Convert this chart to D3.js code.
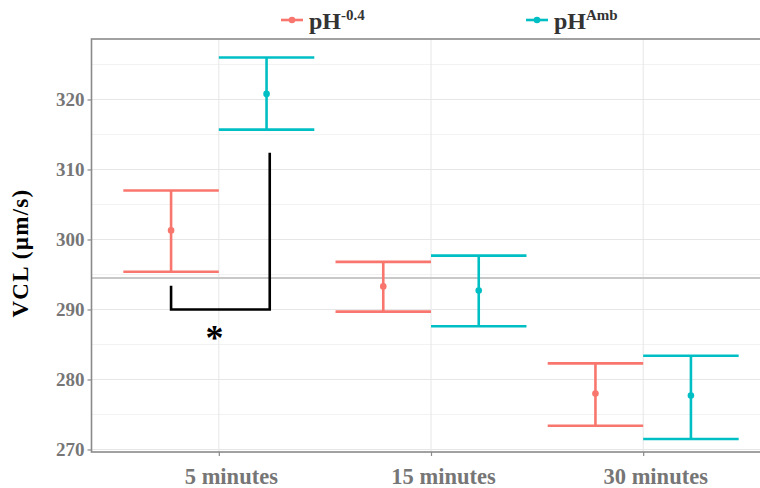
<!DOCTYPE html>
<html><head><meta charset="utf-8">
<script src="https://cdn.jsdelivr.net/npm/d3@7"></script>
<style>body{margin:0;background:#fff}</style>
</head><body><svg id="c" width="760" height="488"></svg>
<script>
// ---- data ----
const categories = ["5 minutes", "15 minutes", "30 minutes"];
const seriesLabels = ["-0.4", "Amb"];
const seriesColors = ["#F8766D", "#00BFC4"];
const meanNeg  = [301.3, 293.3, 278.0];
const lowerNeg = [295.4, 289.7, 273.4];
const upperNeg = [307.0, 296.8, 282.3];
const meanAmb  = [320.8, 292.7, 277.7];
const lowerAmb = [315.7, 287.6, 271.5];
const upperAmb = [326.0, 297.7, 283.4];
const yTicks = [270, 280, 290, 300, 310, 320];
const yMinor = [275, 285, 295, 305, 315, 325];
const bracketX = [0.775, 1.24];
const bracketY = [293.4, 290.0, 312.4];
const starPos = [0.98, 287];
const refLine = 294.5;

const series = [
  {label: seriesLabels[0], color: seriesColors[0], mean: meanNeg, lo: lowerNeg, hi: upperNeg, off: -0.225},
  {label: seriesLabels[1], color: seriesColors[1], mean: meanAmb, lo: lowerAmb, hi: upperAmb, off: 0.225}
];

const svg = d3.select("#c");
const L = 91.5, R = 770.5, T = 39, B = 452;
const x = d3.scaleLinear().domain([0.4, 3.6]).range([L, R]);
const y = d3.scaleLinear().domain([269.64, 328.64]).range([B, T]);
const FONT = "'Liberation Serif', serif";
const GREY = "#767676";

const g = svg.append("g");
// minor grid
g.selectAll(".ymin").data(yMinor).join("line")
  .attr("x1", L).attr("x2", R).attr("y1", d => y(d)).attr("y2", d => y(d))
  .attr("stroke", "#f2f2f2").attr("stroke-width", 1);
// major grid
g.selectAll(".ymaj").data(yTicks).join("line")
  .attr("x1", L).attr("x2", R).attr("y1", d => y(d)).attr("y2", d => y(d))
  .attr("stroke", "#e6e6e6").attr("stroke-width", 1);
g.selectAll(".xmaj").data([1, 2, 3]).join("line")
  .attr("x1", d => x(d)).attr("x2", d => x(d)).attr("y1", T).attr("y2", B)
  .attr("stroke", "#e6e6e6").attr("stroke-width", 1);
// reference line
g.append("line").attr("x1", L).attr("x2", R).attr("y1", y(refLine)).attr("y2", y(refLine))
  .attr("stroke", "#c8c8c8").attr("stroke-width", 2);

// error bars
series.forEach(s => {
  const sg = g.append("g");
  categories.forEach((c, i) => {
    const cx = x(i + 1 + s.off);
    sg.append("line").attr("x1", cx).attr("x2", cx).attr("y1", y(s.lo[i])).attr("y2", y(s.hi[i]))
      .attr("stroke", s.color).attr("stroke-width", 2.6);
    [s.lo[i], s.hi[i]].forEach(v => {
      sg.append("line").attr("x1", x(i + 1 + s.off - 0.225)).attr("x2", x(i + 1 + s.off + 0.225))
        .attr("y1", y(v)).attr("y2", y(v)).attr("stroke", s.color).attr("stroke-width", 2.6);
    });
    sg.append("circle").attr("cx", cx).attr("cy", y(s.mean[i])).attr("r", 3.3).attr("fill", s.color);
  });
});

// bracket
g.append("path")
  .attr("d", d3.line()([[x(bracketX[0]), y(bracketY[0])], [x(bracketX[0]), y(bracketY[1])],
                        [x(bracketX[1]), y(bracketY[1])], [x(bracketX[1]), y(bracketY[2])]]))
  .attr("fill", "none").attr("stroke", "#000").attr("stroke-width", 2.6);
g.append("text").attr("x", x(starPos[0])).attr("y", y(starPos[1]) + 20)
  .attr("text-anchor", "middle").attr("font-family", FONT).attr("font-weight", "bold")
  .attr("font-size", 36).attr("fill", "#000").text("*");

// border
g.append("rect").attr("x", L).attr("y", T).attr("width", R - L).attr("height", B - T)
  .attr("fill", "none").attr("stroke", "#8a8a8a").attr("stroke-width", 1.6);

// axes
const yAxis = d3.axisLeft(y).tickValues(yTicks).tickSize(4).tickPadding(3);
const ya = svg.append("g").attr("transform", `translate(${L},0)`).call(yAxis);
ya.select(".domain").remove();
ya.selectAll("line").attr("stroke", "#8a8a8a").attr("stroke-width", 1.2);
ya.selectAll("text").attr("font-family", FONT).attr("font-weight", "bold")
  .attr("font-size", 19).attr("fill", GREY);

const xAxis = d3.axisBottom(x).tickValues([1, 2, 3]).tickFormat((d) => categories[d - 1]).tickSize(4).tickPadding(12);
const xa = svg.append("g").attr("transform", `translate(0,${B})`).call(xAxis);
xa.select(".domain").remove();
xa.selectAll("line").attr("stroke", "#8a8a8a").attr("stroke-width", 1.2);
xa.selectAll("text").attr("font-family", FONT).attr("font-weight", "bold")
  .attr("font-size", 22.5).attr("fill", GREY).attr("dx", 12);

// y title
svg.append("text").attr("transform", "translate(28,253) rotate(-90)")
  .attr("text-anchor", "middle").attr("font-family", FONT).attr("font-weight", "bold")
  .attr("font-size", 23).attr("letter-spacing", 1.3).attr("fill", "#000").text("VCL (µm/s)");

// legend
const legX = [292, 537];
series.forEach((s, i) => {
  const lg = svg.append("g").attr("transform", `translate(${legX[i]},20)`);
  lg.append("line").attr("x1", -11).attr("x2", 11).attr("stroke", s.color).attr("stroke-width", 2.6);
  lg.append("circle").attr("r", 3.3).attr("fill", s.color);
  const t = lg.append("text").attr("x", 17).attr("y", 9).attr("font-family", FONT)
    .attr("font-weight", "bold").attr("font-size", 24).attr("fill", "#333");
  t.append("tspan").text("pH");
  t.append("tspan").attr("dy", -9).attr("font-size", 15).text(s.label);
});
</script></body></html>
